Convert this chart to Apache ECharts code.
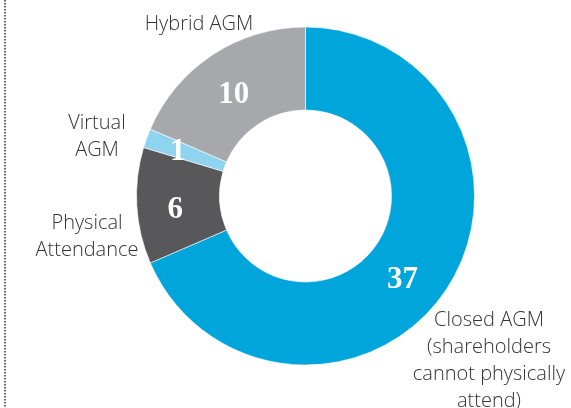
<!DOCTYPE html>
<html>
<head>
<meta charset="utf-8">
<script src="https://cdn.jsdelivr.net/npm/echarts@6/dist/echarts.min.js"></script>
<style>
  html, body { margin: 0; padding: 0; background: #fff; }
  #chart { width: 571px; height: 408px; }
</style>
</head>
<body>
<div id="chart"></div>
<script>
// AGM format counts
var categories = ['Closed AGM\n(shareholders\ncannot physically\nattend)', 'Physical\nAttendance', 'Virtual\nAGM', 'Hybrid AGM'];
var values = [37, 6, 1, 10];
var colors = ['#00a5db', '#58585a', '#8fd4ef', '#a7a8ab'];

// where the category captions sit (centre of text block)
var captionPos = [[489, 361], [87, 237], [97, 137], [199, 24]];
// small nudges for the value numbers
var valueNudge = [[-12, 12], [0, 6], [-5, 1], [0, 8]];

var chart = echarts.init(document.getElementById('chart'));

var sliceData = categories.map(function (name, i) {
  return { name: name, value: values[i], itemStyle: { color: colors[i] } };
});

chart.setOption({
  backgroundColor: '#fff',
  animation: false,
  graphic: [{
    type: 'line',
    shape: { x1: 5, y1: 0, x2: 5, y2: 408 },
    style: { stroke: '#333', lineWidth: 1.5, lineDash: [1.5, 1.5] }
  }],
  series: [
    {
      type: 'pie',
      center: [305.5, 196],
      radius: [86, 169],
      startAngle: 90,
      clockwise: true,
      silent: true,
      itemStyle: { borderColor: '#fff', borderWidth: 0.6 },
      label: {
        position: 'inside',
        formatter: '{c}',
        color: '#fff',
        fontFamily: 'Liberation Serif',
        fontWeight: 'bold',
        fontSize: 31
      },
      labelLayout: function (params) {
        var n = valueNudge[params.dataIndex];
        return { dx: n[0], dy: n[1] };
      },
      labelLine: { show: false },
      data: sliceData
    },
    {
      type: 'pie',
      center: [305.5, 196],
      radius: [86, 169],
      startAngle: 90,
      clockwise: true,
      silent: true,
      itemStyle: { color: 'transparent' },
      label: {
        position: 'outside',
        alignTo: 'none',
        overflow: 'none',
        formatter: '{b}',
        color: '#333',
        fontFamily: 'Open Sans',
        fontWeight: 300,
        fontSize: 20,
        lineHeight: 27,
        align: 'center'
      },
      labelLine: { show: false },
      labelLayout: function (params) {
        var p = captionPos[params.dataIndex];
        return { x: p[0], y: p[1], align: 'center', verticalAlign: 'middle' };
      },
      data: sliceData.map(function (d) { return { name: d.name, value: d.value }; })
    }
  ]
});
</script>
</body>
</html>
